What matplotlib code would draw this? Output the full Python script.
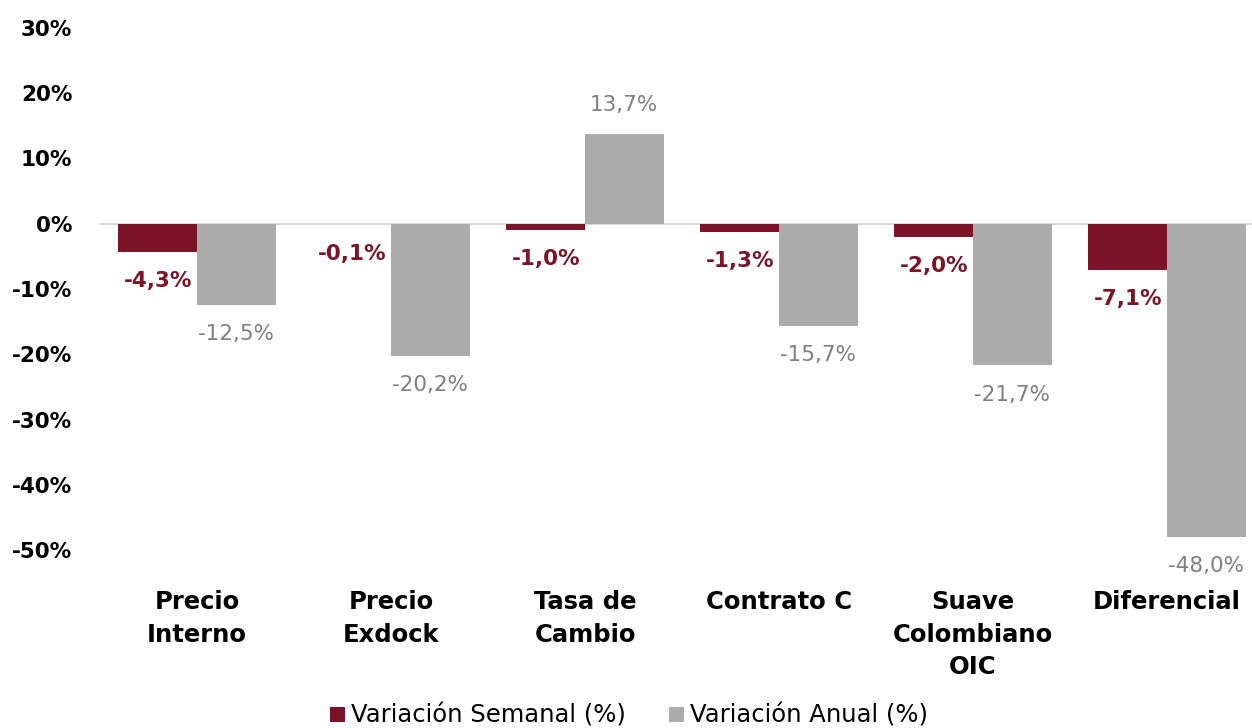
import matplotlib
matplotlib.use("Agg")
import matplotlib.pyplot as plt
import numpy as np

categories = ["Precio\nInterno", "Precio\nExdock", "Tasa de\nCambio", "Contrato C",
              "Suave\nColombiano\nOIC", "Diferencial"]
semanal = [-4.3, -0.1, -1.0, -1.3, -2.0, -7.1]
anual = [-12.5, -20.2, 13.7, -15.7, -21.7, -48.0]
series_names = ["Variación Semanal (%)", "Variación Anual (%)"]
yticks = [30, 20, 10, 0, -10, -20, -30, -40, -50]

RED = "#7B1428"
GRAY = "#ABABAB"
LABEL_GRAY = "#7F7F7F"
FONT = ["DejaVu Sans"]

plt.rcParams["font.family"] = FONT

fig = plt.figure(figsize=(12.52, 7.28), dpi=100)
ax = fig.add_axes([100/1252, 1-550/728, 1164/1252, (550-28)/728])

x = np.arange(len(categories))
w = 0.405
b1 = ax.bar(x - w/2, semanal, w, color=RED, label=series_names[0], zorder=2)
b2 = ax.bar(x + w/2, anual, w, color=GRAY, label=series_names[1], zorder=2)

def fmt(v):
    return f"{v:.1f}%".replace(".", ",")

for xi, v in zip(x - w/2, semanal):
    ax.annotate(fmt(v), (xi, v), xytext=(0, 21 if v > 0 else -21), textcoords="offset points",
                ha="center", va="center", color=RED, fontsize=15.5, fontweight="bold",
                annotation_clip=False)
for xi, v in zip(x + w/2, anual):
    ax.annotate(fmt(v), (xi, v), xytext=(0, 21 if v > 0 else -21), textcoords="offset points",
                ha="center", va="center", color=LABEL_GRAY, fontsize=15.5,
                annotation_clip=False)

ax.axhline(0, color="#D9D9D9", lw=1.5, zorder=1)
ax.set_xlim(-0.5, len(categories) - 0.5)
ax.set_ylim(-50, 30)
ax.set_yticks(yticks)
ax.set_yticklabels([f"{t}%" for t in yticks], fontsize=15.5, fontweight="bold")
ax.set_xticks(x)
ax.set_xticklabels(categories, fontsize=17.5, fontweight="bold", linespacing=1.45)
ax.tick_params(axis="y", length=0, pad=20)
ax.tick_params(axis="x", length=0, pad=29)
for s in ax.spines.values():
    s.set_visible(False)

leg = fig.legend(handles=[b1, b2], labels=series_names, loc="center",
                 bbox_to_anchor=(629/1252, 1-716/728), ncol=2, frameon=False,
                 fontsize=17.5, handlelength=0.6, handleheight=0.6, handletextpad=0.25,
                 columnspacing=1.8)

fig.savefig("out.png", dpi=100)
